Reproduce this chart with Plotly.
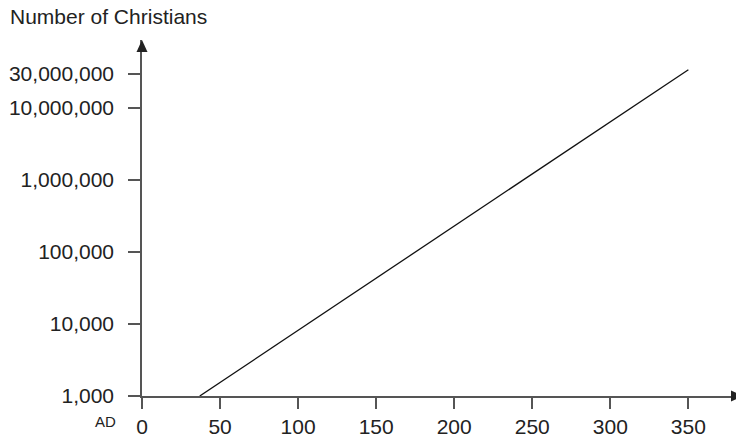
import plotly.graph_objects as go

years = [37, 350]
christians = [1000, 34000000]

x_tickvals = [0, 50, 100, 150, 200, 250, 300, 350]
x_ticktext = ["0", "50", "100", "150", "200", "250", "300", "350"]
y_tickvals = [1000, 10000, 100000, 1000000, 10000000, 30000000]
y_ticktext = ["1,000", "10,000", "100,000", "1,000,000", "10,000,000", "30,000,000"]

# page has an 8px body margin, so the figure is offset by 8px
W, H = 736, 430
ML, MR, MT, MB = 134, 1, 32, 42
PW, PH = W - ML - MR, H - MT - MB

axis_col = "#555555"
text_col = "#222222"
font_fam = "Liberation Sans, Arial, sans-serif"

fig = go.Figure()
fig.add_trace(go.Scatter(x=years, y=christians, mode="lines",
                         line=dict(color="#111111", width=1.3),
                         hoverinfo="skip", showlegend=False))

# arrowheads (paper coords)
ah_len, ah_half = 12, 5.5
x_arrow = "M {} {} L {} {} L {} {} Z".format(
    1, 0, 1 - ah_len / PW, ah_half / PH, 1 - ah_len / PW, -ah_half / PH)
y_arrow = "M {} {} L {} {} L {} {} Z".format(
    0, 1, -ah_half / PW, 1 - ah_len / PH, ah_half / PW, 1 - ah_len / PH)
fig.add_shape(type="path", path=x_arrow, xref="paper", yref="paper",
              fillcolor="#222222", line=dict(width=0))
fig.add_shape(type="path", path=y_arrow, xref="paper", yref="paper",
              fillcolor="#222222", line=dict(width=0))

fig.add_annotation(text="Number of Christians", xref="paper", yref="paper",
                   x=-ML / PW, y=1 + (MT - 9) / PH, xanchor="left",
                   yanchor="middle", showarrow=False,
                   font=dict(size=21, color=text_col, family=font_fam))
fig.add_annotation(text="AD", xref="paper", yref="paper",
                   x=-24 / PW, y=-25 / PH, xanchor="right", yanchor="middle",
                   showarrow=False,
                   font=dict(size=15, color=text_col, family=font_fam))

fig.update_layout(
    width=W, height=H,
    margin=dict(l=ML, r=MR, t=MT, b=MB, autoexpand=False),
    plot_bgcolor="white", paper_bgcolor="white",
    font=dict(family=font_fam, color=text_col, size=21),
    xaxis=dict(range=[0, 385], tickvals=x_tickvals, ticktext=x_ticktext,
               showgrid=False, zeroline=False, showline=True,
               linecolor=axis_col, linewidth=1.5, automargin=False,
               ticks="outside", ticklen=11, tickwidth=1.5, tickcolor=axis_col,
               tickfont=dict(size=21, color=text_col)),
    yaxis=dict(type="log", range=[3, 7.944], tickvals=y_tickvals,
               ticktext=y_ticktext, showgrid=False, zeroline=False,
               showline=True, linecolor=axis_col, linewidth=1.5,
               automargin=False,
               ticks="outside", ticklen=12, tickwidth=1.5, tickcolor=axis_col,
               ticklabelstandoff=10,
               tickfont=dict(size=21, color=text_col)),
)

fig.write_html("out.html")
